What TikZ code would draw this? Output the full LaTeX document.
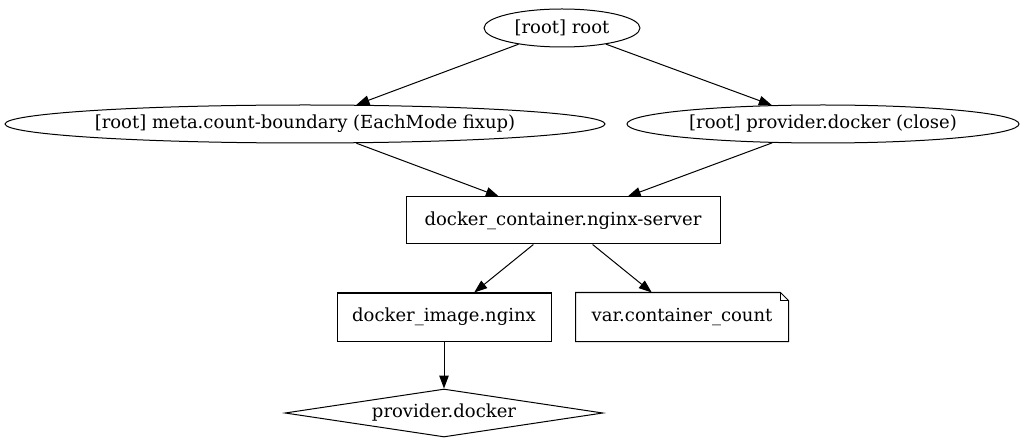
\documentclass[tikz,border=0pt]{standalone}
\usepackage{fontspec}
\setmainfont{DejaVu Serif}
\usepackage{tikz}
\usetikzlibrary{shapes.geometric, arrows.meta}

\begin{document}
\begin{tikzpicture}[x=1pt, y=-1pt, line width=1pt,
    font=\fontsize{18}{22}\selectfont,
    gnode/.style={ellipse, draw, inner xsep=-8pt, inner ysep=0pt, minimum height=38pt},
    gbox/.style={rectangle, draw, inner sep=0pt, minimum height=47pt},
    gedge/.style={-{Triangle[length=13pt, width=9.5pt]}}]
    \useasboundingbox (0,0) rectangle (1024,443);

    \node[gnode, minimum width=156pt] (root) at (562, 28) {[root] root};
    \node[gnode, minimum width=600pt] (meta) at (305, 124) {[root] meta.count-boundary (EachMode fixup)};
    \node[gnode, minimum width=392pt] (close) at (823, 124) {[root] provider.docker (close)};
    \node[gbox, minimum width=314pt] (container) at (563, 220.5) {docker\_container.nginx-server};
    \node[gbox, minimum width=214pt, minimum height=48pt] (image) at (444, 317) {docker\_image.nginx};
    \node[rectangle, inner sep=0pt, minimum width=212pt, minimum height=48pt] (count) at (682, 317) {var.container\_count};
    \node[diamond, draw, inner sep=0pt, aspect=6.6, minimum width=318pt, minimum height=48pt] (provider) at (444, 413) {provider.docker};

    % note shape with folded corner
    \draw (count.north west) -- ([xshift=-8pt]count.north east) -- ([yshift=-8pt]count.north east)
        -- (count.south east) -- (count.south west) -- cycle;
    \draw ([xshift=-8pt]count.north east) -- ([xshift=-8pt, yshift=-8pt]count.north east)
        -- ([yshift=-8pt]count.north east);

    \draw[gedge] (root) -- (meta);
    \draw[gedge] (root) -- (close);
    \draw[gedge] (meta) -- (container);
    \draw[gedge] (close) -- (container);
    \draw[gedge] (container) -- (image);
    \draw[gedge] (container) -- (count);
    \draw[gedge] (image) -- (provider);
\end{tikzpicture}
\end{document}
